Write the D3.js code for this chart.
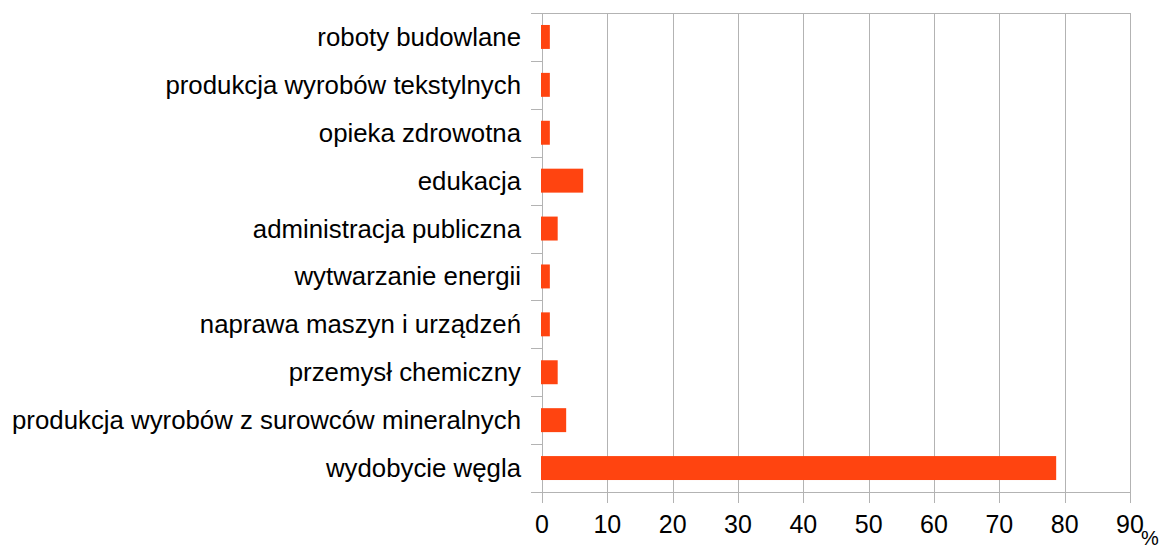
<!DOCTYPE html>
<html>
<head>
<meta charset="utf-8">
<script src="https://cdn.jsdelivr.net/npm/d3@7"></script>
<style>
  html, body { margin: 0; padding: 0; background: #fff; }
  svg { display: block; font-family: "Liberation Sans", Arial, sans-serif; }
</style>
</head>
<body>
<svg id="chart" width="1165" height="549"></svg>
<script>
// Branches, top to bottom
const categories = [
  "roboty budowlane",
  "produkcja wyrobów tekstylnych",
  "opieka zdrowotna",
  "edukacja",
  "administracja publiczna",
  "wytwarzanie energii",
  "naprawa maszyn i urządzeń",
  "przemysł chemiczny",
  "produkcja wyrobów z surowców mineralnych",
  "wydobycie węgla"
];
// Share in percent
const shares = [1.2, 1.2, 1.2, 6.3, 2.4, 1.2, 1.2, 2.4, 3.7, 78.7];
const xTicks = [0, 10, 20, 30, 40, 50, 60, 70, 80, 90];
const unitLabel = "%";

const svg = d3.select("#chart");
const plotLeft = 542, plotRight = 1130, plotTop = 13, plotBottom = 492;

const x = d3.scaleLinear().domain([0, 90]).range([plotLeft, plotRight]);
const y = d3.scaleBand().domain(categories).range([plotTop, plotBottom]).paddingInner(0.5).paddingOuter(0.25);

const gridColor = "#b3b3b3";

// vertical grid lines
svg.append("g").selectAll("line").data(xTicks).join("line")
  .attr("x1", d => Math.round(x(d)) + 0.5).attr("x2", d => Math.round(x(d)) + 0.5)
  .attr("y1", plotTop).attr("y2", plotBottom + 11)
  .attr("stroke", gridColor).attr("stroke-width", 1);

// top border
svg.append("line")
  .attr("x1", plotLeft - 11).attr("x2", plotRight + 1)
  .attr("y1", plotTop + 0.5).attr("y2", plotTop + 0.5)
  .attr("stroke", gridColor);

// bottom axis line
svg.append("line")
  .attr("x1", plotLeft - 11).attr("x2", plotRight + 1)
  .attr("y1", plotBottom + 0.5).attr("y2", plotBottom + 0.5)
  .attr("stroke", gridColor);

// category boundary ticks on the left
const bounds = d3.range(categories.length + 1).map(i => plotTop + i * (plotBottom - plotTop) / categories.length);
svg.append("g").selectAll("line").data(bounds).join("line")
  .attr("x1", plotLeft - 11).attr("x2", plotLeft)
  .attr("y1", d => Math.round(d) + 0.5).attr("y2", d => Math.round(d) + 0.5)
  .attr("stroke", gridColor);

// bars
svg.append("g").selectAll("rect").data(categories).join("rect")
  .attr("x", x(0) - 1)
  .attr("y", d => y(d))
  .attr("width", (d, i) => x(shares[i]) - x(0) + 1)
  .attr("height", y.bandwidth())
  .attr("fill", "#ff4410");

// category labels
svg.append("g").selectAll("text").data(categories).join("text")
  .attr("x", 521)
  .attr("y", d => y(d) + y.bandwidth() / 2)
  .attr("dy", "0.35em")
  .attr("text-anchor", "end")
  .attr("font-size", 25.8)
  .attr("fill", "#000")
  .text(d => d);

// value axis tick labels
svg.append("g").selectAll("text").data(xTicks).join("text")
  .attr("x", d => x(d))
  .attr("y", 533)
  .attr("text-anchor", "middle")
  .attr("font-size", 25)
  .attr("fill", "#000")
  .text(d => d);

// unit label
svg.append("text")
  .attr("x", 1141).attr("y", 545)
  .attr("font-size", 20)
  .attr("fill", "#000")
  .text(unitLabel);
</script>
</body>
</html>
